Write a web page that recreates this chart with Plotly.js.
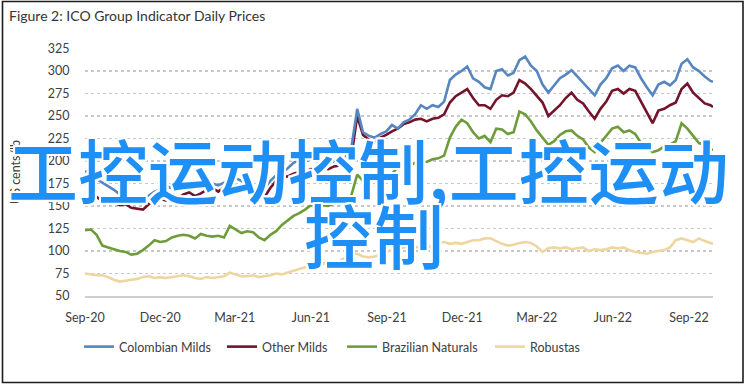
<!DOCTYPE html>
<html>
<head>
<meta charset="utf-8">
<script src="https://cdn.plot.ly/plotly-3.0.1.min.js"></script>
<style>
  html, body { margin: 0; padding: 0; background: #fff; }
  #chart { width: 748px; height: 387px; }
</style>
</head>
<body>
<div id="chart"></div>
<script>
// ---- Data (weekly samples) ----
const dates = [
  "2020-09-01","2020-09-08","2020-09-15","2020-09-22","2020-09-29","2020-10-06","2020-10-13","2020-10-20","2020-10-27",
  "2020-11-03","2020-11-10","2020-11-17","2020-11-24","2020-12-01","2020-12-08","2020-12-15","2020-12-22","2020-12-29",
  "2021-01-05","2021-01-12","2021-01-19","2021-01-26","2021-02-02","2021-02-09","2021-02-16","2021-02-23",
  "2021-03-02","2021-03-09","2021-03-16","2021-03-23","2021-03-30","2021-04-06","2021-04-13","2021-04-20","2021-04-27",
  "2021-05-04","2021-05-11","2021-05-18","2021-05-25","2021-06-01","2021-06-08","2021-06-15","2021-06-22","2021-06-29",
  "2021-07-06","2021-07-13","2021-07-20","2021-07-27","2021-08-03","2021-08-10","2021-08-17","2021-08-24","2021-08-31",
  "2021-09-07","2021-09-14","2021-09-21","2021-09-28","2021-10-05","2021-10-12","2021-10-19","2021-10-26",
  "2021-11-02","2021-11-09","2021-11-16","2021-11-23","2021-11-30","2021-12-07","2021-12-14","2021-12-21","2021-12-28",
  "2022-01-04","2022-01-11","2022-01-18","2022-01-25","2022-02-01","2022-02-08","2022-02-15","2022-02-22",
  "2022-03-01","2022-03-08","2022-03-15","2022-03-22","2022-03-29","2022-04-05","2022-04-12","2022-04-19","2022-04-26",
  "2022-05-03","2022-05-10","2022-05-17","2022-05-24","2022-05-31","2022-06-07","2022-06-14","2022-06-21","2022-06-28",
  "2022-07-05","2022-07-12","2022-07-19","2022-07-26","2022-08-02","2022-08-09","2022-08-16","2022-08-23","2022-08-30",
  "2022-09-06","2022-09-13","2022-09-20","2022-09-27","2022-09-30"
];

const colombianMilds = [
  188,190,180,176,172,168,163,160,157,154,157,162,166,168,172,170,173,174,
  171,175,173,172,175,173,176,178,181,178,174,172,166,170,178,184,187,
  192,198,201,199,203,200,197,202,199,200,204,215,258,232,228,226,230,233,
  240,236,243,246,252,262,258,262,260,266,290,296,300,305,292,288,282,
  280,300,302,295,298,312,316,306,300,285,276,284,292,296,301,294,287,280,
  273,285,292,303,306,300,306,304,292,282,273,285,288,284,290,308,313,
  304,300,294,289,288
];

const otherMilds = [
  178,172,160,156,153,154,151,152,148,147,146,152,155,158,156,160,158,163,
  165,161,164,168,170,166,171,175,173,168,166,163,157,160,170,178,181,
  183,186,188,188,191,190,192,191,194,195,198,205,250,229,224,221,226,229,
  233,236,241,243,246,247,244,247,248,252,265,272,276,280,270,262,262,
  258,268,273,272,276,290,286,280,272,265,250,256,262,270,276,268,264,255,
  247,258,266,278,280,275,280,278,266,255,242,256,258,262,265,280,286,
  276,270,264,262,260
];

const brazilianNaturals = [
  123,124,118,106,104,102,100,99,96,97,101,106,112,110,111,115,117,118,
  117,114,119,117,116,117,115,128,124,120,122,121,115,112,118,122,129,
  134,139,142,146,151,148,151,150,153,152,155,162,185,178,176,180,182,181,
  186,193,192,195,198,200,199,202,203,206,226,238,246,242,232,225,228,
  221,236,235,230,232,255,252,244,234,226,218,222,229,233,234,228,224,215,
  210,220,228,236,238,232,234,230,220,215,210,212,216,218,222,242,236,
  228,220,218,214,212
];

const robustas = [
  75,74,73,73,71,68,66,67,68,69,71,72,70,71,70,71,72,73,
  72,70,69,71,70,71,72,76,74,72,72,73,71,72,73,75,74,
  76,78,80,82,83,85,86,87,88,89,93,97,97,94,93,94,96,99,
  101,102,104,105,104,105,104,106,109,110,108,109,108,110,112,112,114,
  114,111,108,106,107,109,110,109,105,99,103,104,103,104,102,103,104,100,
  102,101,102,104,103,104,101,99,98,97,99,100,101,104,112,114,112,
  110,114,111,109,108
];

const seriesNames = ["Colombian Milds", "Other Milds", "Brazilian Naturals", "Robustas"];
const seriesColors = ["#5685c0", "#74142b", "#6f9c3a", "#eed6a0"];
const seriesValues = [colombianMilds, otherMilds, brazilianNaturals, robustas];

const yTickVals = [50, 75, 100, 125, 150, 175, 200, 225, 250, 275, 300, 325];

const titleText = "Figure 2: ICO Group Indicator Daily Prices";
const yTitleText = "US cents/lb";
const overlayLine1 = "工控运动控制,工控运动";
const overlayLine2 = "控制";

// ---- Layout geometry (pixels) ----
const W = 748, H = 387;
const M = { l: 85, r: 35, t: 48, b: 91 };
const PW = W - M.l - M.r, PH = H - M.t - M.b;
const px2paperX = x => (x - M.l) / PW;
const py2paperY = y => (H - M.b - y) / PH;

const legendNames = ["legend", "legend2", "legend3", "legend4"];
const legendTextX = [119, 262, 382, 530];

const traces = seriesNames.map((name, i) => ({
  type: "scatter",
  mode: "lines",
  name: name,
  x: dates,
  y: seriesValues[i],
  line: { color: seriesColors[i], width: 2.6 },
  legend: legendNames[i],
  hoverinfo: "skip"
}));
// draw order: Robustas at back, blue on top
const ordered = [traces[3], traces[2], traces[1], traces[0]];

const baseFont = { family: "Lato, 'Open Sans', sans-serif", size: 12.5, color: "#404040" };
const outline = "2px 0 0 #fff, -2px 0 0 #fff, 0 2px 0 #fff, 0 -2px 0 #fff, 2px 2px 0 #fff, -2px -2px 0 #fff, 2px -2px 0 #fff, -2px 2px 0 #fff";

const layout = {
  width: W, height: H,
  margin: { l: M.l, r: M.r, t: M.t, b: M.b, autoexpand: false },
  paper_bgcolor: "#ffffff",
  plot_bgcolor: "#ffffff",
  font: baseFont,
  title: {
    text: titleText,
    x: 9 / W, xanchor: "left", xref: "container",
    y: 1 - 16 / H, yanchor: "middle", yref: "container",
    font: { family: "Lato, 'Open Sans', sans-serif", size: 14, color: "#333333" }
  },
  xaxis: {
    type: "date",
    range: ["2020-09-01", "2022-09-30"],
    tick0: "2020-09-01",
    dtick: "M3",
    tickformat: "%b-%y",
    showgrid: false,
    zeroline: false,
    showline: true,
    linecolor: "#cfcfcf",
    linewidth: 1.6,
    ticks: "outside",
    ticklen: 9,
    tickcolor: "rgba(0,0,0,0)",
    tickfont: baseFont,
    fixedrange: true
  },
  yaxis: {
    range: [50, 325.6],
    tickvals: yTickVals,
    showgrid: true,
    gridcolor: "#c8c8c8",
    gridwidth: 1.4,
    griddash: "dot",
    zeroline: false,
    showline: false,
    ticks: "outside",
    ticklen: 12,
    tickcolor: "rgba(0,0,0,0)",
    tickfont: baseFont,
    title: { text: yTitleText, font: baseFont, standoff: 24 },
    fixedrange: true
  },
  showlegend: true,
  annotations: [
    {
      text: overlayLine1, xref: "paper", yref: "paper",
      x: px2paperX(368), y: py2paperY(168), xanchor: "center", yanchor: "middle",
      showarrow: false,
      font: { family: "'Noto Sans CJK SC', sans-serif", size: 70, color: "#1e8ff5", weight: 500, shadow: outline }
    },
    {
      text: overlayLine2, xref: "paper", yref: "paper",
      x: px2paperX(374), y: py2paperY(233), xanchor: "center", yanchor: "middle",
      showarrow: false,
      font: { family: "'Noto Sans CJK SC', sans-serif", size: 70, color: "#1e8ff5", weight: 500, shadow: outline }
    }
  ],
  shapes: [
    { type: "rect", xref: "paper", yref: "paper", layer: "above",
      x0: px2paperX(2.5), x1: px2paperX(743), y0: py2paperY(382.5), y1: py2paperY(1.5),
      line: { color: "#1c1c1c", width: 1.6 }, fillcolor: "rgba(0,0,0,0)" }
  ]
};

legendNames.forEach((ln, i) => {
  layout[ln] = {
    orientation: "h",
    xref: "container", yref: "container",
    x: (legendTextX[i] - 40) / W, xanchor: "left",
    y: 1 - 347 / H, yanchor: "middle",
    bgcolor: "rgba(0,0,0,0)",
    borderwidth: 0,
    font: baseFont,
    itemwidth: 30
  };
});

Plotly.newPlot("chart", ordered, layout, { staticPlot: true, displayModeBar: false });
</script>
</body>
</html>
